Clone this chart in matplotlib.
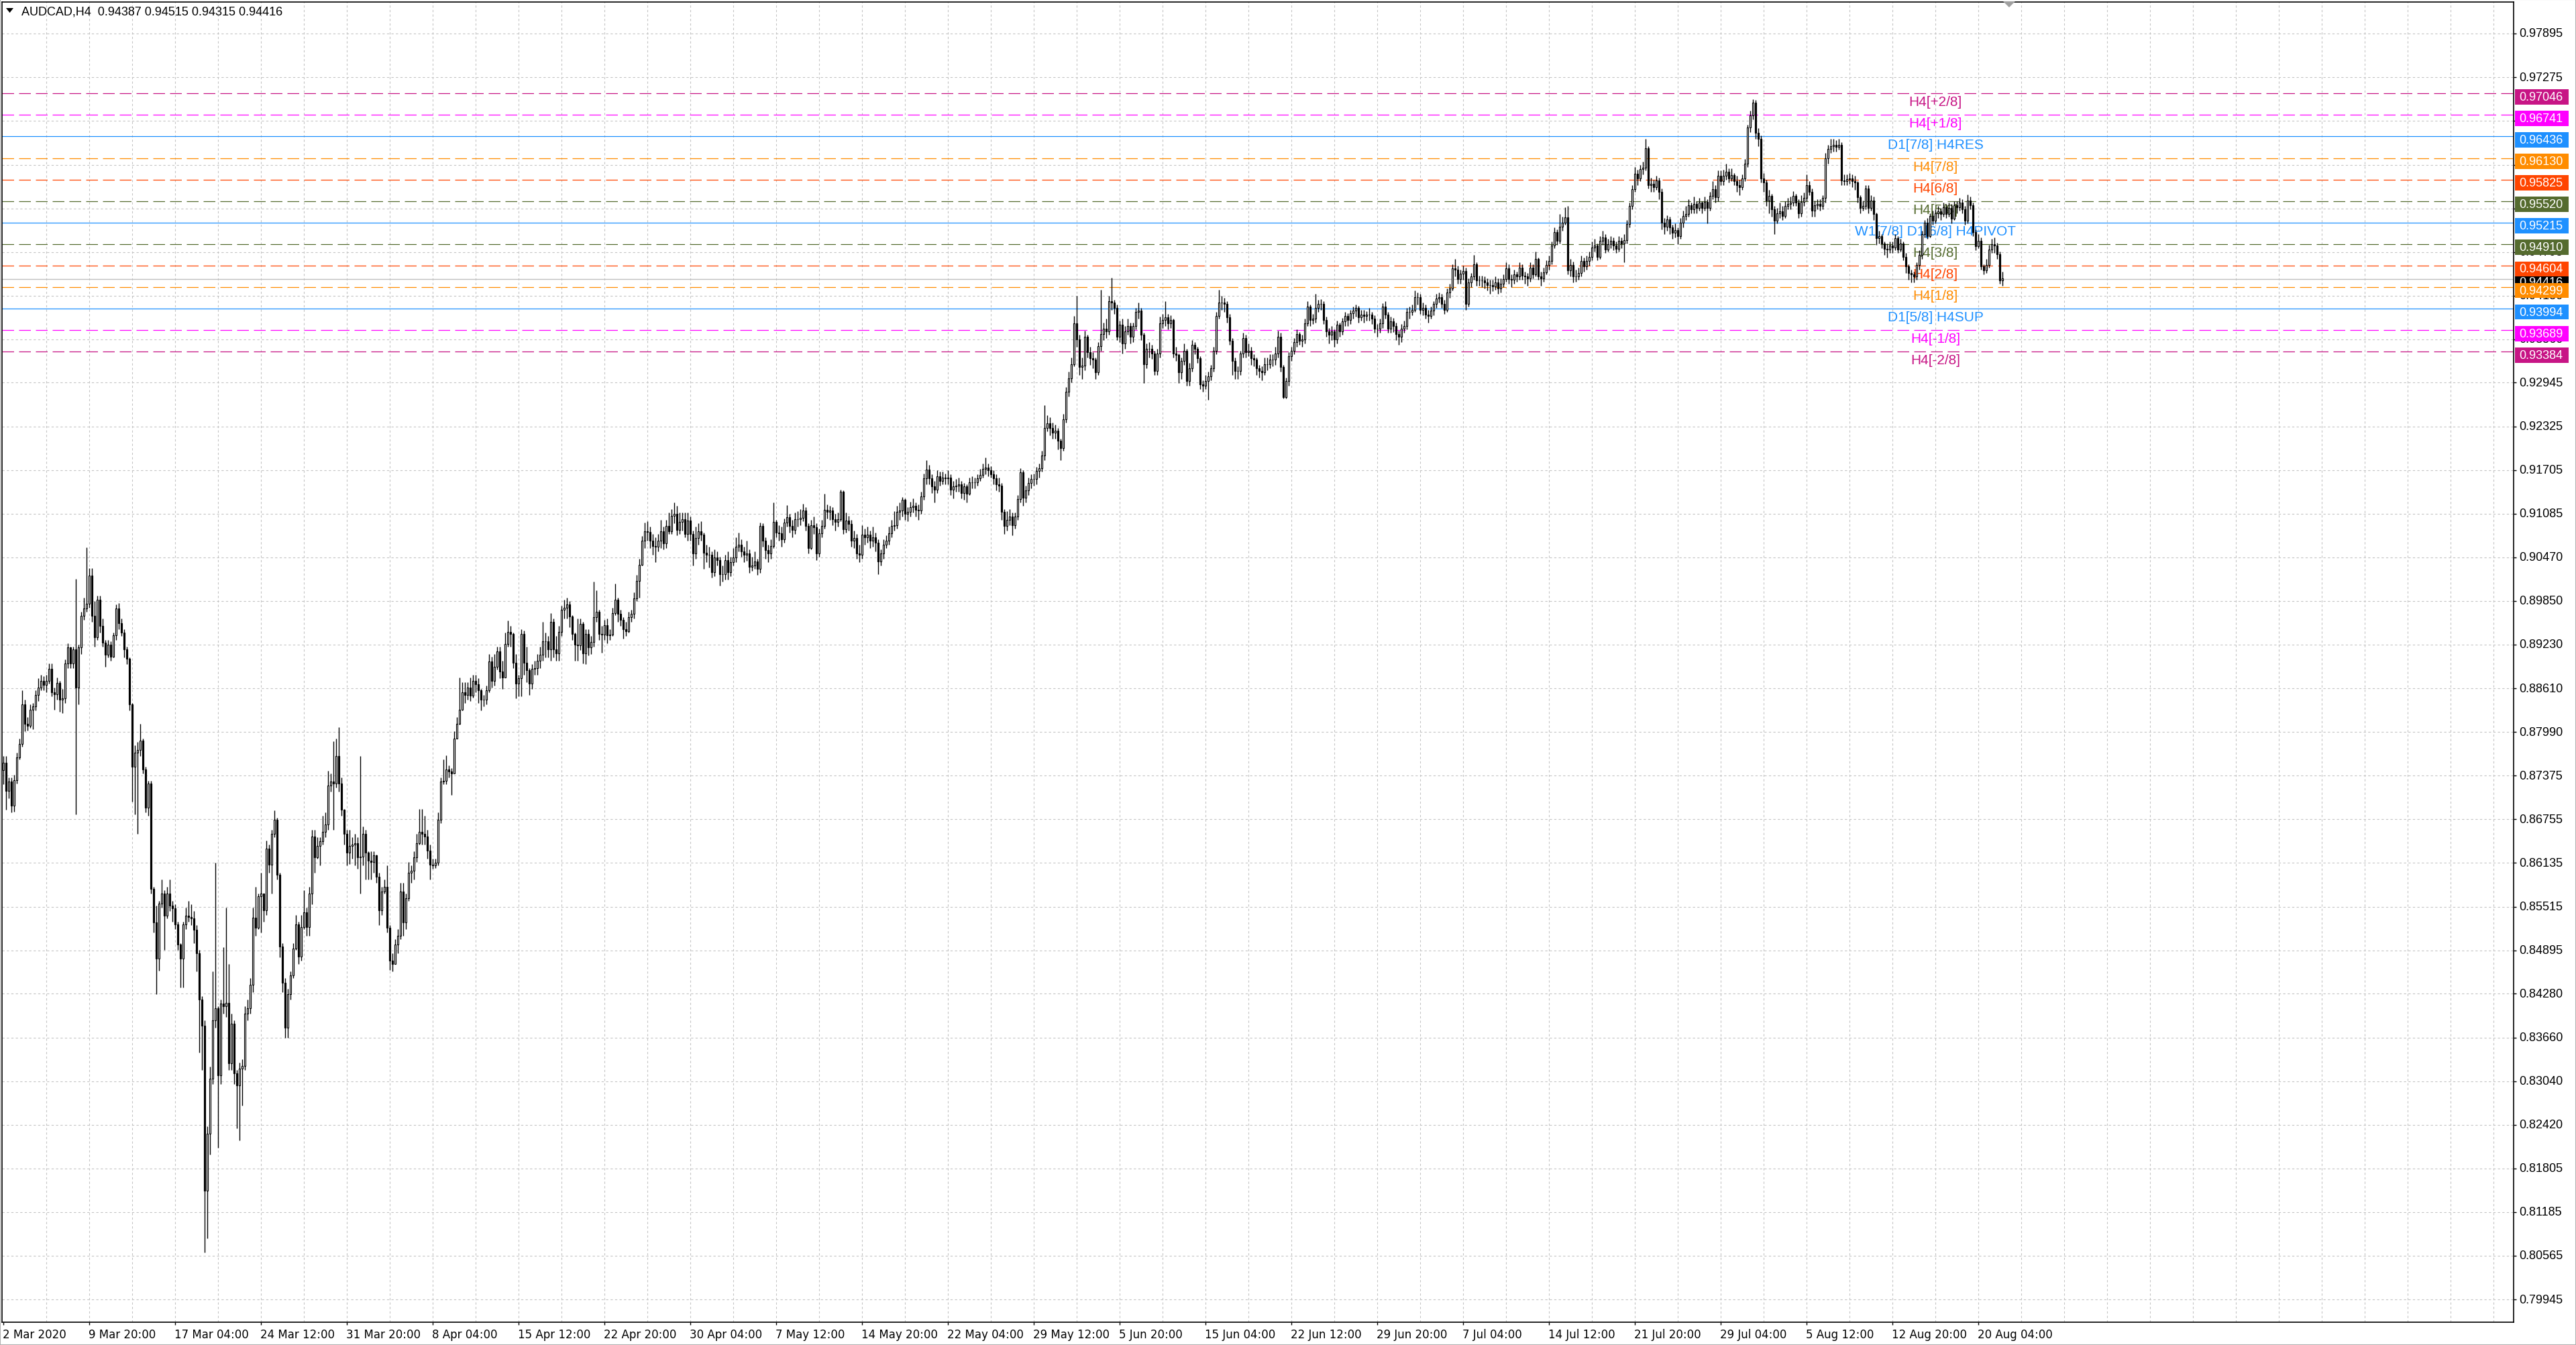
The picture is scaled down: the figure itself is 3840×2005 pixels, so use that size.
import numpy as np
import matplotlib.pyplot as plt
from matplotlib.patches import Rectangle, Polygon
from matplotlib.transforms import blended_transform_factory

W, H, DPI = 3840, 2006, 100

header = "AUDCAD,H4  0.94387 0.94515 0.94315 0.94416"

# H4 candles, prices in 1/10000 (open of each bar = previous close)
first_open = 8745
close = [
    8756, 8716, 8729, 8695, 8731, 8763, 8782, 8838, 8811, 8808,
    8831, 8835, 8852, 8862, 8872, 8866, 8872, 8889, 8855, 8853,
    8869, 8845, 8847, 8896, 8919, 8896, 8916, 8862, 8919, 8964,
    8974, 8981, 9021, 8964, 8933, 8987, 8950, 8926, 8909, 8923,
    8906, 8936, 8974, 8953, 8940, 8916, 8903, 8838, 8750, 8770,
    8774, 8787, 8746, 8692, 8726, 8577, 8529, 8478, 8556, 8570,
    8539, 8570, 8553, 8549, 8526, 8498, 8478, 8526, 8539, 8537,
    8535, 8519, 8485, 8420, 8383, 8149, 8230, 8308, 8390, 8407,
    8312, 8414, 8410, 8415, 8329, 8386, 8315, 8298, 8322, 8326,
    8400, 8407, 8441, 8536, 8522, 8566, 8570, 8546, 8634, 8611,
    8655, 8675, 8597, 8495, 8444, 8380, 8427, 8454, 8492, 8526,
    8481, 8523, 8543, 8523, 8570, 8651, 8621, 8638, 8644, 8658,
    8668, 8723, 8729, 8726, 8765, 8726, 8689, 8655, 8628, 8638,
    8640, 8641, 8621, 8622, 8655, 8628, 8617, 8615, 8624, 8594,
    8546, 8573, 8580, 8522, 8475, 8470, 8498, 8510, 8573, 8529,
    8563, 8600, 8602, 8621, 8641, 8658, 8655, 8651, 8631, 8611,
    8610, 8614, 8675, 8729, 8730, 8746, 8743, 8740, 8790, 8811,
    8831, 8855, 8852, 8862, 8851, 8872, 8867, 8858, 8845, 8845,
    8858, 8899, 8872, 8892, 8913, 8885, 8876, 8924, 8941, 8938,
    8897, 8868, 8875, 8938, 8897, 8887, 8868, 8889, 8890, 8900,
    8909, 8928, 8928, 8916, 8955, 8916, 8911, 8941, 8972, 8975,
    8980, 8963, 8938, 8923, 8922, 8952, 8911, 8938, 8919, 8927,
    8962, 8970, 8938, 8937, 8951, 8936, 8937, 8968, 8987, 8967,
    8958, 8945, 8942, 8962, 8967, 8989, 9013, 9036, 9070, 9084,
    9083, 9070, 9063, 9062, 9070, 9084, 9067, 9091, 9084, 9106,
    9108, 9086, 9097, 9101, 9080, 9099, 9080, 9052, 9074, 9084,
    9079, 9053, 9050, 9050, 9026, 9047, 9043, 9023, 9023, 9043,
    9026, 9040, 9047, 9062, 9065, 9055, 9050, 9052, 9033, 9035,
    9041, 9030, 9091, 9070, 9057, 9052, 9063, 9097, 9082, 9081,
    9072, 9096, 9104, 9091, 9086, 9101, 9101, 9103, 9113, 9091,
    9060, 9092, 9089, 9052, 9081, 9091, 9114, 9111, 9113, 9101,
    9097, 9101, 9140, 9087, 9099, 9094, 9070, 9074, 9052, 9050,
    9079, 9075, 9079, 9070, 9075, 9068, 9041, 9052, 9065, 9070,
    9081, 9091, 9092, 9111, 9113, 9128, 9108, 9111, 9118, 9120,
    9114, 9113, 9133, 9159, 9171, 9159, 9147, 9143, 9162, 9155,
    9160, 9159, 9160, 9143, 9147, 9148, 9150, 9138, 9147, 9137,
    9153, 9153, 9153, 9159, 9164, 9172, 9174, 9170, 9165, 9159,
    9150, 9148, 9111, 9091, 9100, 9105, 9092, 9105, 9129, 9167,
    9131, 9142, 9152, 9158, 9158, 9169, 9173, 9191, 9230, 9237,
    9230, 9224, 9226, 9212, 9202, 9243, 9282, 9301, 9321, 9379,
    9356, 9317, 9319, 9360, 9338, 9329, 9327, 9309, 9346, 9363,
    9371, 9367, 9410, 9408, 9400, 9360, 9377, 9350, 9367, 9375,
    9360, 9375, 9395, 9397, 9362, 9321, 9342, 9342, 9336, 9311,
    9336, 9379, 9383, 9387, 9379, 9383, 9336, 9334, 9309, 9325,
    9340, 9297, 9315, 9348, 9342, 9329, 9292, 9290, 9297, 9303,
    9315, 9340, 9389, 9408, 9408, 9406, 9387, 9354, 9325, 9311,
    9311, 9336, 9358, 9338, 9340, 9329, 9327, 9315, 9311, 9309,
    9321, 9321, 9327, 9327, 9336, 9360, 9317, 9274, 9297, 9332,
    9340, 9352, 9363, 9354, 9356, 9379, 9402, 9383, 9385, 9400,
    9406, 9406, 9383, 9367, 9362, 9367, 9356, 9377, 9367, 9381,
    9389, 9383, 9393, 9397, 9400, 9387, 9391, 9389, 9391, 9391,
    9385, 9371, 9371, 9379, 9402, 9391, 9371, 9381, 9375, 9363,
    9360, 9371, 9375, 9395, 9395, 9398, 9416, 9416, 9398, 9400,
    9391, 9389, 9397, 9406, 9414, 9416, 9406, 9398, 9422, 9428,
    9457, 9455, 9441, 9449, 9453, 9406, 9437, 9445, 9462, 9439,
    9439, 9439, 9437, 9433, 9433, 9431, 9437, 9428, 9435, 9441,
    9457, 9441, 9440, 9448, 9445, 9458, 9446, 9445, 9442, 9458,
    9448, 9470, 9445, 9442, 9451, 9461, 9467, 9489, 9508, 9496,
    9516, 9521, 9529, 9454, 9461, 9445, 9445, 9450, 9467, 9459,
    9467, 9473, 9486, 9489, 9473, 9496, 9500, 9483, 9491, 9496,
    9489, 9484, 9496, 9492, 9497, 9519, 9545, 9569, 9591, 9584,
    9597, 9599, 9627, 9575, 9576, 9572, 9581, 9565, 9521, 9516,
    9526, 9515, 9507, 9511, 9502, 9521, 9531, 9534, 9546, 9540,
    9548, 9542, 9550, 9542, 9551, 9542, 9559, 9569, 9557, 9588,
    9580, 9588, 9594, 9584, 9589, 9580, 9575, 9572, 9584, 9605,
    9656, 9673, 9692, 9649, 9640, 9584, 9578, 9553, 9559, 9540,
    9524, 9535, 9537, 9531, 9545, 9548, 9550, 9559, 9550, 9535,
    9551, 9556, 9575, 9565, 9538, 9546, 9548, 9545, 9556, 9613,
    9626, 9630, 9632, 9629, 9632, 9581, 9580, 9583, 9584, 9580,
    9578, 9557, 9542, 9545, 9570, 9542, 9553, 9534, 9499, 9502,
    9492, 9484, 9483, 9489, 9486, 9499, 9483, 9492, 9473, 9459,
    9450, 9448, 9445, 9461, 9476, 9505, 9521, 9502, 9531, 9524,
    9535, 9537, 9534, 9543, 9534, 9542, 9527, 9546, 9543, 9550,
    9540, 9524, 9553, 9546, 9508, 9488, 9496, 9459, 9454, 9461,
    9483, 9491, 9489, 9477, 9439, 9442,
]
high = [
    8765, 8765, 8735, 8735, 8738, 8770, 8790, 8858, 8845, 8820,
    8838, 8840, 8858, 8875, 8880, 8878, 8880, 8896, 8896, 8862,
    8876, 8872, 8860, 8902, 8925, 8920, 8920, 9016, 8923, 8970,
    8990, 9061, 9031, 9031, 8985, 8992, 8992, 8960, 8930, 8930,
    8928, 8940, 8980, 8982, 8960, 8945, 8920, 8905, 8840, 8780,
    8785, 8811, 8790, 8750, 8730, 8730, 8580, 8553, 8560, 8590,
    8575, 8580, 8590, 8560, 8555, 8530, 8500, 8530, 8550, 8560,
    8555, 8545, 8525, 8490, 8425, 8390, 8240, 8325, 8460, 8614,
    8410, 8420, 8494, 8550, 8470, 8400, 8390, 8320, 8330, 8335,
    8410, 8420, 8450, 8550, 8580, 8570, 8600, 8560, 8645, 8640,
    8660, 8688, 8678, 8600, 8500, 8450, 8435, 8460, 8500, 8540,
    8530, 8540, 8575, 8550, 8580, 8660, 8660, 8650, 8650, 8680,
    8685, 8744, 8740, 8786, 8790, 8806, 8735, 8690, 8660, 8660,
    8650, 8655, 8650, 8765, 8665, 8660, 8630, 8630, 8630, 8625,
    8600, 8580, 8590, 8610, 8525, 8485, 8505, 8520, 8585, 8585,
    8570, 8615, 8610, 8630, 8655, 8690, 8690, 8680, 8660, 8640,
    8620, 8620, 8685, 8735, 8760, 8766, 8752, 8748, 8800, 8820,
    8876, 8870, 8870, 8870, 8876, 8880, 8880, 8875, 8860, 8852,
    8865, 8910, 8906, 8910, 8920, 8920, 8900, 8940, 8957, 8950,
    8940, 8910, 8880, 8945, 8943, 8920, 8890, 8895, 8900, 8910,
    8920, 8955, 8940, 8935, 8968, 8960, 8935, 8950, 8978, 8987,
    8990, 8985, 8965, 8940, 8960, 8960, 8955, 8945, 8945, 8935,
    9012, 9000, 8972, 8950, 8958, 8960, 8945, 8975, 9010, 8990,
    8972, 8962, 8955, 8970, 8972, 8997, 9022, 9045, 9077, 9096,
    9098, 9090, 9080, 9075, 9080, 9100, 9090, 9100, 9110, 9115,
    9125, 9120, 9110, 9110, 9110, 9110, 9105, 9085, 9090, 9095,
    9098, 9082, 9065, 9062, 9055, 9058, 9055, 9048, 9035, 9050,
    9055, 9048, 9060, 9075, 9082, 9072, 9062, 9070, 9058, 9048,
    9055, 9045, 9096, 9095, 9075, 9065, 9072, 9125, 9100, 9092,
    9090, 9102, 9121, 9108, 9100, 9110, 9112, 9115, 9123, 9118,
    9095, 9100, 9105, 9095, 9088, 9100, 9137, 9122, 9120, 9118,
    9108, 9110, 9143, 9142, 9110, 9106, 9100, 9085, 9080, 9065,
    9092, 9088, 9090, 9085, 9090, 9082, 9072, 9058, 9072, 9078,
    9090, 9100, 9112, 9120, 9125, 9132, 9130, 9118, 9126, 9130,
    9125, 9122, 9140, 9166, 9185, 9178, 9165, 9155, 9170, 9168,
    9168, 9166, 9170, 9165, 9155, 9158, 9160, 9155, 9152, 9150,
    9160, 9162, 9160, 9165, 9172, 9180, 9188, 9180, 9176, 9170,
    9165, 9160, 9152, 9115, 9112, 9115, 9110, 9110, 9135, 9173,
    9170, 9148, 9160, 9165, 9166, 9175, 9180, 9198, 9263, 9248,
    9245, 9238, 9235, 9230, 9215, 9250, 9288, 9310, 9330, 9389,
    9418, 9362, 9330, 9368, 9362, 9345, 9338, 9330, 9352, 9426,
    9380, 9385, 9418, 9443, 9412, 9405, 9382, 9385, 9375, 9385,
    9380, 9380, 9400, 9408, 9400, 9365, 9350, 9352, 9348, 9340,
    9342, 9388, 9392, 9410, 9392, 9390, 9385, 9345, 9336, 9330,
    9350, 9342, 9322, 9355, 9352, 9345, 9332, 9298, 9305, 9310,
    9320, 9345, 9395, 9426, 9418, 9415, 9410, 9392, 9358, 9330,
    9318, 9340, 9365, 9362, 9350, 9345, 9335, 9330, 9320, 9318,
    9330, 9330, 9335, 9335, 9345, 9368, 9365, 9320, 9302, 9338,
    9345, 9358, 9370, 9366, 9362, 9385, 9410, 9405, 9392, 9420,
    9412, 9413, 9410, 9388, 9372, 9375, 9370, 9382, 9380, 9386,
    9395, 9393, 9398, 9402, 9405, 9403, 9398, 9398, 9396, 9400,
    9395, 9390, 9378, 9385, 9407, 9410, 9395, 9388, 9386, 9380,
    9368, 9378, 9382, 9400, 9402, 9405, 9425, 9422, 9420, 9408,
    9405, 9398, 9402, 9410, 9420, 9422, 9420, 9412, 9428, 9435,
    9462, 9470, 9460, 9455, 9460, 9458, 9442, 9450, 9476, 9465,
    9446, 9446, 9445, 9442, 9440, 9440, 9445, 9442, 9442, 9448,
    9465, 9462, 9448, 9455, 9452, 9465, 9462, 9452, 9450, 9465,
    9462, 9480, 9472, 9452, 9458, 9468, 9475, 9495, 9515, 9512,
    9534, 9530, 9543, 9545, 9470, 9466, 9455, 9458, 9475, 9472,
    9475, 9480, 9495, 9498, 9492, 9502, 9510, 9505, 9498, 9502,
    9500, 9495, 9502, 9500, 9505, 9525, 9550, 9575, 9600, 9596,
    9603, 9608, 9640, 9630, 9585, 9582, 9588, 9585, 9570, 9528,
    9532, 9530, 9518, 9520, 9515, 9528, 9538, 9545, 9555, 9550,
    9558, 9552, 9556, 9552, 9558, 9555, 9565, 9580, 9575, 9595,
    9595, 9596, 9605, 9598, 9598, 9592, 9588, 9582, 9590, 9612,
    9660, 9680, 9696, 9695, 9655, 9645, 9592, 9582, 9568, 9562,
    9545, 9542, 9550, 9545, 9552, 9556, 9558, 9566, 9562, 9555,
    9560, 9564, 9590, 9580, 9570, 9553, 9555, 9555, 9560, 9620,
    9632, 9640, 9640, 9638, 9640, 9635, 9590, 9590, 9592, 9590,
    9588, 9580, 9560, 9553, 9575, 9575, 9560, 9558, 9536, 9510,
    9505, 9495, 9492, 9495, 9495, 9505, 9502, 9498, 9495, 9478,
    9462, 9455, 9452, 9465, 9482, 9510, 9525, 9528, 9535, 9538,
    9540, 9545, 9542, 9550, 9548, 9550, 9548, 9552, 9552, 9556,
    9555, 9545, 9561, 9558, 9550, 9512, 9505, 9500, 9462, 9470,
    9490, 9498, 9500, 9493, 9480, 9452,
]
low = [
    8725, 8689, 8705, 8685, 8686, 8726, 8760, 8778, 8800, 8801,
    8805, 8803, 8830, 8843, 8858, 8858, 8855, 8868, 8850, 8831,
    8845, 8828, 8826, 8840, 8890, 8890, 8890, 8682, 8838, 8910,
    8958, 8970, 8975, 8955, 8920, 8930, 8940, 8920, 8892, 8905,
    8900, 8905, 8930, 8945, 8935, 8905, 8895, 8830, 8700, 8682,
    8655, 8765, 8740, 8685, 8680, 8570, 8515, 8427, 8461, 8550,
    8490, 8535, 8545, 8530, 8520, 8490, 8437, 8437, 8520, 8530,
    8525, 8500, 8460, 8345, 8320, 8061, 8081, 8200, 8300, 8380,
    8210, 8300, 8400, 8395, 8320, 8320, 8300, 8237, 8220, 8270,
    8320, 8390, 8400, 8430, 8510, 8520, 8515, 8530, 8540, 8600,
    8570, 8650, 8590, 8480, 8430, 8366, 8366, 8420, 8450, 8490,
    8470, 8475, 8520, 8510, 8510, 8555, 8600, 8620, 8610, 8640,
    8650, 8660, 8715, 8660, 8720, 8715, 8680, 8640, 8610, 8612,
    8620, 8610, 8605, 8570, 8610, 8590, 8590, 8590, 8600, 8585,
    8525, 8540, 8570, 8515, 8462, 8460, 8470, 8485, 8505, 8510,
    8520, 8560, 8585, 8590, 8615, 8640, 8640, 8640, 8620, 8590,
    8605, 8606, 8610, 8670, 8725, 8725, 8735, 8710, 8740, 8790,
    8810, 8830, 8840, 8845, 8843, 8848, 8855, 8840, 8830, 8835,
    8838, 8855, 8862, 8865, 8888, 8875, 8860, 8878, 8920, 8920,
    8890, 8847, 8850, 8850, 8880, 8870, 8852, 8860, 8880, 8880,
    8890, 8900, 8905, 8905, 8900, 8905, 8900, 8900, 8935, 8960,
    8960, 8948, 8930, 8900, 8900, 8915, 8896, 8895, 8908, 8910,
    8920, 8955, 8930, 8912, 8930, 8925, 8930, 8935, 8965, 8955,
    8950, 8932, 8935, 8940, 8955, 8960, 8985, 8990, 9035, 9060,
    9070, 9060, 9050, 9040, 9055, 9060, 9058, 9060, 9080, 9080,
    9095, 9078, 9080, 9085, 9075, 9070, 9070, 9035, 9045, 9065,
    9070, 9030, 9040, 9032, 9018, 9020, 9035, 9007, 9012, 9015,
    9015, 9020, 9035, 9040, 9055, 9048, 9040, 9042, 9025, 9028,
    9030, 9022, 9025, 9062, 9045, 9040, 9045, 9060, 9075, 9070,
    9062, 9068, 9090, 9082, 9075, 9080, 9090, 9092, 9098, 9085,
    9052, 9058, 9080, 9043, 9048, 9075, 9088, 9102, 9100, 9092,
    9085, 9090, 9098, 9080, 9082, 9085, 9062, 9060, 9045, 9040,
    9045, 9065, 9068, 9060, 9062, 9055, 9023, 9035, 9045, 9060,
    9065, 9075, 9085, 9088, 9100, 9105, 9100, 9098, 9105, 9110,
    9105, 9100, 9108, 9128, 9150, 9150, 9138, 9125, 9138, 9148,
    9150, 9150, 9150, 9135, 9130, 9140, 9140, 9130, 9128, 9125,
    9135, 9145, 9145, 9148, 9155, 9160, 9165, 9162, 9160, 9150,
    9142, 9140, 9100, 9080, 9085, 9092, 9078, 9088, 9100, 9125,
    9120, 9125, 9135, 9145, 9148, 9150, 9160, 9168, 9185, 9225,
    9220, 9215, 9215, 9200, 9185, 9198, 9238, 9275, 9295, 9318,
    9345, 9305, 9300, 9312, 9330, 9320, 9315, 9300, 9305, 9340,
    9355, 9358, 9362, 9398, 9392, 9355, 9352, 9336, 9342, 9362,
    9350, 9352, 9370, 9385, 9355, 9294, 9315, 9330, 9328, 9305,
    9305, 9330, 9372, 9375, 9370, 9372, 9330, 9325, 9294, 9300,
    9320, 9290, 9290, 9310, 9335, 9322, 9285, 9282, 9285, 9270,
    9298, 9310, 9335, 9385, 9398, 9395, 9380, 9348, 9305, 9300,
    9300, 9305, 9330, 9330, 9332, 9320, 9318, 9305, 9302, 9298,
    9305, 9312, 9315, 9318, 9320, 9330, 9310, 9272, 9272, 9290,
    9325, 9335, 9345, 9348, 9345, 9350, 9375, 9375, 9378, 9380,
    9395, 9398, 9378, 9360, 9350, 9355, 9345, 9350, 9360, 9362,
    9375, 9375, 9378, 9385, 9388, 9380, 9382, 9380, 9382, 9382,
    9378, 9365, 9360, 9365, 9372, 9385, 9365, 9365, 9366, 9355,
    9348, 9352, 9365, 9370, 9385, 9390, 9395, 9405, 9392, 9390,
    9385, 9380, 9385, 9390, 9400, 9408, 9400, 9392, 9395, 9415,
    9425, 9445, 9435, 9435, 9440, 9398, 9402, 9430, 9440, 9432,
    9432, 9430, 9428, 9425, 9420, 9424, 9426, 9420, 9422, 9430,
    9438, 9435, 9430, 9435, 9438, 9440, 9440, 9435, 9432, 9438,
    9442, 9445, 9440, 9432, 9438, 9448, 9455, 9462, 9485, 9490,
    9492, 9510, 9518, 9448, 9445, 9437, 9438, 9440, 9445, 9452,
    9455, 9460, 9468, 9480, 9468, 9470, 9490, 9478, 9480, 9485,
    9482, 9478, 9480, 9485, 9465, 9492, 9515, 9540, 9565, 9575,
    9580, 9590, 9595, 9570, 9565, 9565, 9568, 9555, 9512, 9505,
    9510, 9505, 9498, 9500, 9491, 9498, 9515, 9525, 9530, 9535,
    9535, 9535, 9538, 9535, 9538, 9520, 9538, 9555, 9550, 9552,
    9575, 9575, 9582, 9578, 9580, 9575, 9565, 9560, 9568, 9580,
    9600, 9650, 9668, 9640, 9630, 9578, 9565, 9545, 9535, 9530,
    9505, 9520, 9528, 9525, 9528, 9540, 9540, 9545, 9545, 9528,
    9530, 9545, 9552, 9560, 9530, 9530, 9540, 9538, 9540, 9550,
    9605, 9620, 9622, 9622, 9625, 9575, 9575, 9575, 9576, 9572,
    9568, 9550, 9535, 9538, 9540, 9535, 9538, 9525, 9490, 9492,
    9485, 9476, 9472, 9478, 9478, 9482, 9478, 9480, 9468, 9450,
    9440, 9437, 9437, 9440, 9455, 9470, 9500, 9498, 9500, 9518,
    9520, 9528, 9525, 9530, 9528, 9530, 9520, 9525, 9535, 9538,
    9535, 9518, 9520, 9540, 9502, 9482, 9485, 9455, 9448, 9450,
    9458, 9478, 9478, 9470, 9435, 9432,
]

time_labels = ["2 Mar 2020", "9 Mar 20:00", "17 Mar 04:00", "24 Mar 12:00",
               "31 Mar 20:00", "8 Apr 04:00", "15 Apr 12:00", "22 Apr 20:00",
               "30 Apr 04:00", "7 May 12:00", "14 May 20:00", "22 May 04:00",
               "29 May 12:00", "5 Jun 20:00", "15 Jun 04:00", "22 Jun 12:00",
               "29 Jun 20:00", "7 Jul 04:00", "14 Jul 12:00", "21 Jul 20:00",
               "29 Jul 04:00", "5 Aug 12:00", "12 Aug 20:00", "20 Aug 04:00"]
bars_per_label = 32

price_ticks = ["0.97895", "0.97275", "0.96655", "0.96035", "0.95415", "0.94795",
               "0.94180", "0.93560", "0.92945", "0.92325", "0.91705", "0.91085",
               "0.90470", "0.89850", "0.89230", "0.88610", "0.87990", "0.87375",
               "0.86755", "0.86135", "0.85515", "0.84895", "0.84280", "0.83660",
               "0.83040", "0.82420", "0.81805", "0.81185", "0.80565", "0.79945"]

levels = [0.97046, 0.96741, 0.96436, 0.96130, 0.95825, 0.95520, 0.95215,
          0.94910, 0.94604, 0.94299, 0.93994, 0.93689, 0.93384]
level_names = ["H4[+2/8]", "H4[+1/8]", "D1[7/8] H4RES", "H4[7/8]", "H4[6/8]",
               "H4[5/8]", "W1[7/8] D1[6/8] H4PIVOT", "H4[3/8]", "H4[2/8]",
               "H4[1/8]", "D1[5/8] H4SUP", "H4[-1/8]", "H4[-2/8]"]
level_colors = ["#C71585", "#FF00FF", "#1E90FF", "#FF8C00", "#FF4500",
                "#556B2F", "#1E90FF", "#556B2F", "#FF4500", "#FF8C00",
                "#1E90FF", "#FF00FF", "#C71585"]
level_solid = [False, False, True, False, False, False, True,
               False, False, False, True, False, False]
last_price = 0.94416

# ---- figure / axes ----
fig = plt.figure(figsize=(W / DPI, H / DPI), dpi=DPI)
fig.patch.set_facecolor("white")
ax = fig.add_axes([3 / W, (H - 1972) / H, (3747 - 3) / W, (1972 - 4) / H])
ax.set_xlim(-0.5, 935.5)
ax.set_ylim(0.79623, 0.98342)
for s in ax.spines.values():
    s.set_color("black")
    s.set_linewidth(1.2)

yt = [float(t) for t in price_ticks]
ax.yaxis.tick_right()
ax.set_yticks(yt)
ax.set_xticks([k * bars_per_label for k in range(len(time_labels))])
ax.tick_params(axis="both", length=3, width=1, color="black",
               labelleft=False, labelright=False, labelbottom=False)

grid_kw = dict(color="#c4c4c4", lw=0.8, ls=(0, (3, 3)), zorder=1)
for v in yt:
    ax.axhline(v, **grid_kw)
for xv in range(16, 936, 16):
    ax.axvline(xv, **grid_kw)

# ---- levels ----
ax.axhline(last_price, color="#c0c0c0", lw=1.0, zorder=2)
for lv, name, col, solid in zip(levels, level_names, level_colors, level_solid):
    ax.axhline(lv, color=col, lw=0.9, ls="-" if solid else (0, (14, 6)), zorder=2)
    ax.annotate(name, xy=(720, lv), xytext=(0, -9), textcoords="offset points",
                ha="center", va="center", fontsize=15, color=col,
                family="Liberation Sans", zorder=3)

# ---- candles ----
n = min(len(close), len(high), len(low))
c = np.array(close[:n]) / 1e4
o = np.r_[first_open, close[:n - 1]] / 1e4
h = np.maximum(np.array(high[:n]) / 1e4, np.maximum(o, c))
l = np.minimum(np.array(low[:n]) / 1e4, np.minimum(o, c))
x = np.arange(n)
up = c >= o
ax.vlines(x, l, h, color="black", lw=1.0, zorder=4)
ax.bar(x[up], (c - o)[up], bottom=o[up], width=0.55, facecolor="white",
       edgecolor="black", lw=0.85, zorder=5)
ax.bar(x[~up], (o - c)[~up], bottom=c[~up], width=0.55, facecolor="black",
       edgecolor="black", lw=0.85, zorder=5)

# ---- right price scale ----
tr = blended_transform_factory(ax.transAxes, ax.transData)
xl = (3755 - 3) / (3747 - 3)
bx0 = (3749 - 3) / (3747 - 3)
bw = 80 / (3747 - 3)
bh = 22.7 / 10513
box_drop = 5 / 10513   # label boxes sit slightly below their line
for t in price_ticks:
    ax.text(xl, float(t), t, transform=tr, ha="left", va="center", fontsize=13,
            family="Liberation Sans", color="black", clip_on=False, zorder=6)


def price_box(p, txt, col, z):
    yc = p - box_drop
    ax.add_patch(Rectangle((bx0, yc - bh / 2), bw, bh, transform=tr, facecolor=col,
                           edgecolor="none", clip_on=False, zorder=z))
    ax.text(xl, yc, txt, transform=tr, ha="left", va="center", fontsize=13,
            family="Liberation Sans", color="white", clip_on=False, zorder=z + 0.5)


price_box(last_price, f"{last_price:.5f}", "black", 7)
for lv, col in zip(levels, level_colors):
    price_box(lv, f"{lv:.5f}", col, 8)

# ---- time scale ----
trx = blended_transform_factory(ax.transData, ax.transAxes)
for k, lab in enumerate(time_labels):
    ax.text(k * bars_per_label - 0.3, -0.0045, lab, transform=trx, ha="left", va="top",
            fontsize=12, family="DejaVu Sans", color="black", clip_on=False)

# ---- header and markers ----
fig.patches.append(Polygon([(9, H - 13), (20, H - 13), (14.5, H - 20)], closed=True,
                           transform=None, facecolor="black", edgecolor="none"))
fig.text(32 / W, 1 - 18 / H, header, ha="left", va="center", fontsize=13,
         family="Liberation Sans", color="black")
fig.patches.append(Polygon([(2986, H - 3), (3004, H - 3), (2995, H - 12)], closed=True,
                           transform=None, facecolor="#a0a0a0", edgecolor="none"))
fig.patches.append(Rectangle((0, 0), 1, 1, transform=fig.transFigure, fill=False,
                             edgecolor="#b0b0b0", lw=1.5))

fig.savefig("out.png", dpi=DPI)
